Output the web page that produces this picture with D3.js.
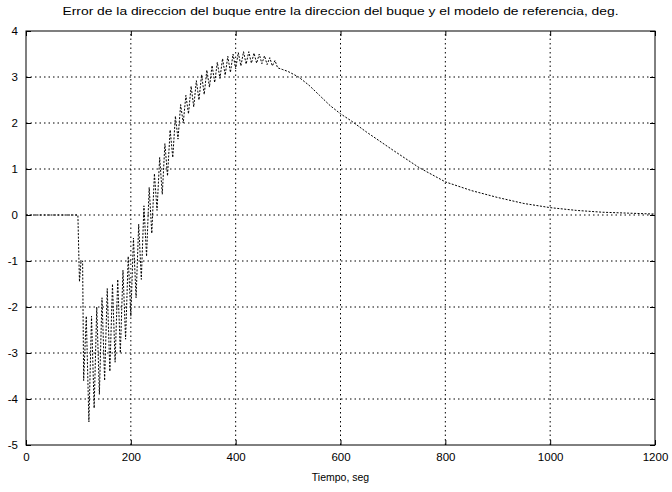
<!DOCTYPE html>
<html>
<head>
<meta charset="utf-8">
<script src="https://cdn.jsdelivr.net/npm/d3@7"></script>
<style>
  body { margin: 0; background: #fff; }
  svg { display: block; font-family: "Liberation Sans", Arial, sans-serif; }
</style>
</head>
<body>
<svg id="chart" width="672" height="492"></svg>
<script>
// time axis, seg
const times = [
  0, 50, 99, 100, 102, 105, 108,
  110, 115, 120, 125, 130, 135, 140, 145, 150, 155,
  160, 165, 170, 175, 180, 185, 190, 195, 200, 205,
  210, 215, 220, 225, 230, 235, 240, 245, 250, 255,
  260, 265, 270, 275, 280, 285, 290, 295, 300, 305,
  310, 315, 320, 325, 330, 335, 340, 345, 350, 355,
  360, 365, 370, 375, 380, 385, 390, 395, 400, 405,
  410, 415, 420, 425, 430, 435, 440, 445, 450, 455,
  460, 465, 470, 475, 480, 490, 500,
  520, 540, 560, 580, 600, 620, 650, 700, 750, 800,
  850, 900, 950, 1000, 1050, 1100, 1150, 1200
];

// heading error, deg
const errors = [
  0, 0, 0, -0.5, -1.45, -1.0, -1.0,
  -3.6, -2.2, -4.5, -2.2, -4.2, -2.0, -3.9, -1.8, -3.6, -1.6,
  -3.4, -1.5, -3.2, -1.4, -3.0, -1.2, -2.7, -0.9, -2.2, -0.5,
  -1.8, -0.2, -1.4, 0.2, -0.9, 0.6, -0.4, 0.9, 0.1, 1.25,
  0.45, 1.55, 0.85, 1.85, 1.25, 2.15, 1.65, 2.4, 2.0, 2.6,
  2.2, 2.8, 2.35, 2.92, 2.5, 3.05, 2.62, 3.15, 2.78, 3.25,
  2.88, 3.32, 2.97, 3.4, 3.04, 3.45, 3.1, 3.5, 3.18, 3.53,
  3.24, 3.55, 3.28, 3.55, 3.3, 3.52, 3.3, 3.5, 3.29, 3.46,
  3.27, 3.42, 3.24, 3.36, 3.2, 3.16, 3.12,
  3.0, 2.82, 2.6, 2.38, 2.2, 2.05, 1.8, 1.41, 1.03, 0.72,
  0.53, 0.38, 0.25, 0.16, 0.1, 0.06, 0.04, 0.02
];

const xTicks = [0, 200, 400, 600, 800, 1000, 1200];
const yTicks = [-5, -4, -3, -2, -1, 0, 1, 2, 3, 4];

const titleText = "Error de la direccion del buque entre la direccion del buque y el modelo de referencia, deg.";
const xLabel = "Tiempo, seg";

const width = 672, height = 492;
const margin = { top: 31, right: 17, bottom: 47, left: 26 };

const svg = d3.select("#chart");

const x = d3.scaleLinear()
  .domain([0, 1200])
  .range([margin.left, width - margin.right]);

const y = d3.scaleLinear()
  .domain([-5, 4])
  .range([height - margin.bottom, margin.top]);

// grid, dotted like matlab
const grid = svg.append("g")
  .attr("stroke", "#000")
  .attr("stroke-width", 1)
  .attr("stroke-dasharray", "1.5,3");

grid.selectAll("line.gx")
  .data(xTicks.slice(1, -1))
  .join("line")
  .attr("x1", d => x(d)).attr("x2", d => x(d))
  .attr("y1", y(-5)).attr("y2", y(4));

grid.selectAll("line.gy")
  .data(yTicks.slice(1, -1))
  .join("line")
  .attr("x1", x(0)).attr("x2", x(1200))
  .attr("y1", d => y(d)).attr("y2", d => y(d));

// the signal
const line = d3.line()
  .x((d, i) => x(times[i]))
  .y(d => y(d));

svg.append("path")
  .datum(errors)
  .attr("d", line)
  .attr("fill", "none")
  .attr("stroke", "#000")
  .attr("stroke-width", 1)
  .attr("stroke-dasharray", "2,1.5");

// axes with inward ticks
const tickLen = 5;
const axisFont = "11.5px";
const fmt = d => String(d);

const xAxis = d3.axisBottom(x).tickValues(xTicks).tickFormat(fmt)
  .tickSizeInner(-tickLen).tickSizeOuter(0).tickPadding(8);
const yAxis = d3.axisLeft(y).tickValues(yTicks).tickFormat(fmt)
  .tickSizeInner(-tickLen).tickSizeOuter(0).tickPadding(8);

svg.append("g")
  .attr("transform", `translate(0,${y(-5)})`)
  .call(xAxis)
  .call(g => g.select(".domain").remove())
  .selectAll("text")
  .attr("font-size", axisFont)
  .attr("fill", "#000");

svg.append("g")
  .attr("transform", `translate(${x(0)},0)`)
  .call(yAxis)
  .call(g => g.select(".domain").remove())
  .selectAll("text")
  .attr("font-size", axisFont)
  .attr("fill", "#000");

// top and right ticks, no labels
svg.append("g")
  .attr("transform", `translate(0,${y(4)})`)
  .call(d3.axisTop(x).tickValues(xTicks).tickSizeInner(-tickLen).tickSizeOuter(0).tickFormat(""))
  .call(g => g.select(".domain").remove());

svg.append("g")
  .attr("transform", `translate(${x(1200)},0)`)
  .call(d3.axisRight(y).tickValues(yTicks).tickSizeInner(-tickLen).tickSizeOuter(0).tickFormat(""))
  .call(g => g.select(".domain").remove());

// box
svg.append("rect")
  .attr("x", x(0)).attr("y", y(4))
  .attr("width", x(1200) - x(0))
  .attr("height", y(-5) - y(4))
  .attr("fill", "none")
  .attr("stroke", "#000")
  .attr("stroke-width", 1);

svg.append("text")
  .attr("x", (x(0) + x(1200)) / 2)
  .attr("y", 15)
  .attr("text-anchor", "middle")
  .attr("font-size", "11px")
  .attr("textLength", 556)
  .attr("lengthAdjust", "spacingAndGlyphs")
  .text(titleText);

svg.append("text")
  .attr("x", (x(0) + x(1200)) / 2)
  .attr("y", 481)
  .attr("text-anchor", "middle")
  .attr("font-size", "10.5px")
  .text(xLabel);
</script>
</body>
</html>
